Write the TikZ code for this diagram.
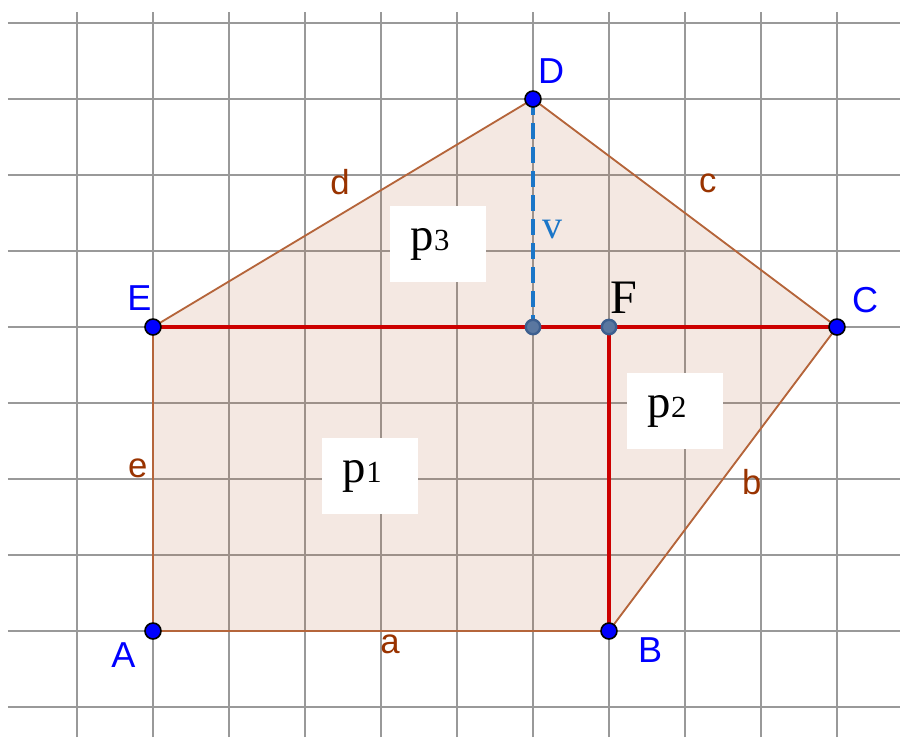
\documentclass[tikz,border=0pt]{standalone}
\usepackage{fontspec}
\setmainfont{Liberation Serif}
\setsansfont{Liberation Sans}
\usepackage{tikz}
\usetikzlibrary{arrows.meta,positioning,calc}
\usepackage{xcolor}
\definecolor{polyedge}{HTML}{B5653B}
\definecolor{edgelbl}{HTML}{993300}
\definecolor{ptblue}{HTML}{0000FF}
\definecolor{ptsteel}{HTML}{3D5F8F}
\definecolor{hgt}{HTML}{1B76C8}
\definecolor{redseg}{HTML}{CC0000}
\newcommand{\area}[1]{p{\fontsize{11.5}{11.5}\selectfont #1}}

\begin{document}
\begin{tikzpicture}[
    >=Stealth,
    gridline/.style={draw=gray!80, line width=0.75pt},
    side/.style={draw=polyedge, line width=0.7pt},
    cut/.style={draw=redseg, line width=1.3pt},
    vertex/.style={circle, draw=black, fill=ptblue, line width=0.6pt,
                   inner sep=0pt, minimum size=0.21cm},
    aux/.style={circle, draw=ptsteel, fill=ptsteel!85, line width=0.9pt,
                inner sep=0pt, minimum size=0.19cm},
    vlabel/.style={text=ptblue, font=\sffamily\fontsize{13.5}{13.5}\selectfont},
    slabel/.style={text=edgelbl, font=\sffamily\fontsize{13}{13}\selectfont},
    areabox/.style={rectangle, fill=white, inner xsep=0.27cm,
                    text width=0.72cm, align=left,
                    minimum height=1cm, font=\fontsize{17.5}{17.5}\selectfont}
  ]
  \useasboundingbox (-2.013,-1.395) rectangle (9.829,8.303);
  \draw[gridline] (-1.908,-1.395) grid (9.829,8.145);

  % corners of the pentagon
  \coordinate (A) at (0,0);
  \coordinate (B) at (6,0);
  \coordinate (C) at (9,4);
  \coordinate (D) at (5,7);
  \coordinate (E) at (0,4);
  \coordinate (F) at (6,4);
  \coordinate (H) at (5,4);

  \fill[polyedge, fill opacity=0.15] (A) -- (B) -- (C) -- (D) -- (E) -- cycle;
  \draw[side] (A) -- (B) -- (C) -- (D) -- (E) -- cycle;

  % split lines and height
  \draw[cut] (E) -- (C);
  \draw[cut] (F) -- (B);
  \draw[hgt, line width=1.2pt, dash pattern=on 6pt off 3pt] (D) -- (H);

  \node[areabox] (p3) at (3.75,5.09) {\area{3}};
  \node[areabox] (p2) at (6.87,2.89) {\area{2}};
  \node[areabox] (p1) at (2.86,2.04) {\area{1}};

  \node[slabel] (la) at (3.12,-0.18) {a};
  \node[slabel] (lb) at (7.88,1.96) {b};
  \node[slabel] (lc) at (7.30,5.89) {c};
  \node[slabel] (ld) at (2.46,5.91) {d};
  \node[slabel] (le) at (-0.20,2.14) {e};
  \node[text=hgt, font=\fontsize{15}{15}\selectfont] (lv) at (5.26,5.28) {v};

  \node[aux] (nH) at (H) {};
  \node[aux] (nF) at (F) {};
  \node[font=\fontsize{18}{18}\selectfont] (lF) at ($(F)+(0.2,0.38)$) {F};

  \node[vertex] (nA) at (A) {};
  \node[vertex] (nB) at (B) {};
  \node[vertex] (nC) at (C) {};
  \node[vertex] (nD) at (D) {};
  \node[vertex] (nE) at (E) {};
  \node[vlabel] (lA) at ($(A)+(-0.39,-0.32)$) {A};
  \node[vlabel] (lB) at ($(B)+(0.54,-0.25)$) {B};
  \node[vlabel] (lC) at ($(C)+(0.37,0.36)$) {C};
  \node[vlabel] (lD) at ($(D)+(0.24,0.37)$) {D};
  \node[vlabel] (lE) at ($(E)+(-0.18,0.38)$) {E};
\end{tikzpicture}
\end{document}
